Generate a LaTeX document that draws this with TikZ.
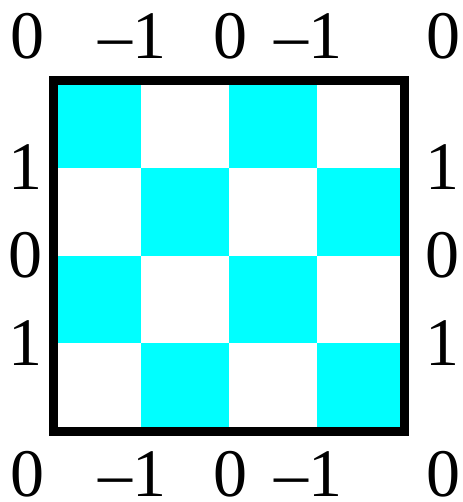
\documentclass[tikz,border=0pt]{standalone}
\usepackage{fontspec}
\setmainfont{Liberation Serif}
\definecolor{cellcyan}{RGB}{0,255,255}
\begin{document}
\begin{tikzpicture}[x=1pt,y=-1pt,
  lbl/.style={inner sep=0pt,anchor=base,text depth=0pt,font=\fontsize{68}{68}\selectfont},
  cell/.style={fill=cellcyan,draw=none},
  frame/.style={draw=black,line width=9pt}]
\useasboundingbox (0,0) rectangle (462,502);
% cyan cells
\foreach \c/\r in {0/0,2/0,1/1,3/1,0/2,2/2,1/3,3/3}{
  \fill[cell] ({53.5+87.75*\c},{80.5+87.6*\r}) rectangle ({53.5+87.75*(\c+1)},{80.5+87.6*(\r+1)});
}
\coordinate (nw) at (53.5,80.5);
\coordinate (se) at (404.5,431);
\draw[frame] (nw) rectangle (se);
% top labels
\node[lbl] (t1) at (27,59) {0};
\node[lbl] (t2) at (132,59) {–1};
\node[lbl] (t3) at (230,59) {0};
\node[lbl] (t4) at (308,59) {–1};
\node[lbl] (t5) at (443,59) {0};
% bottom labels
\node[lbl] (b1) at (27,496) {0};
\node[lbl] (b2) at (132,496) {–1};
\node[lbl] (b3) at (230,496) {0};
\node[lbl] (b4) at (308,496) {–1};
\node[lbl] (b5) at (443,496) {0};
% left labels
\node[lbl] (l1) at (26,190) {1};
\node[lbl] (l2) at (26,277) {0};
\node[lbl] (l3) at (26,365) {1};
% right labels
\node[lbl] (r1) at (442.5,190) {1};
\node[lbl] (r2) at (442.5,277) {0};
\node[lbl] (r3) at (442.5,365) {1};
\end{tikzpicture}
\end{document}
